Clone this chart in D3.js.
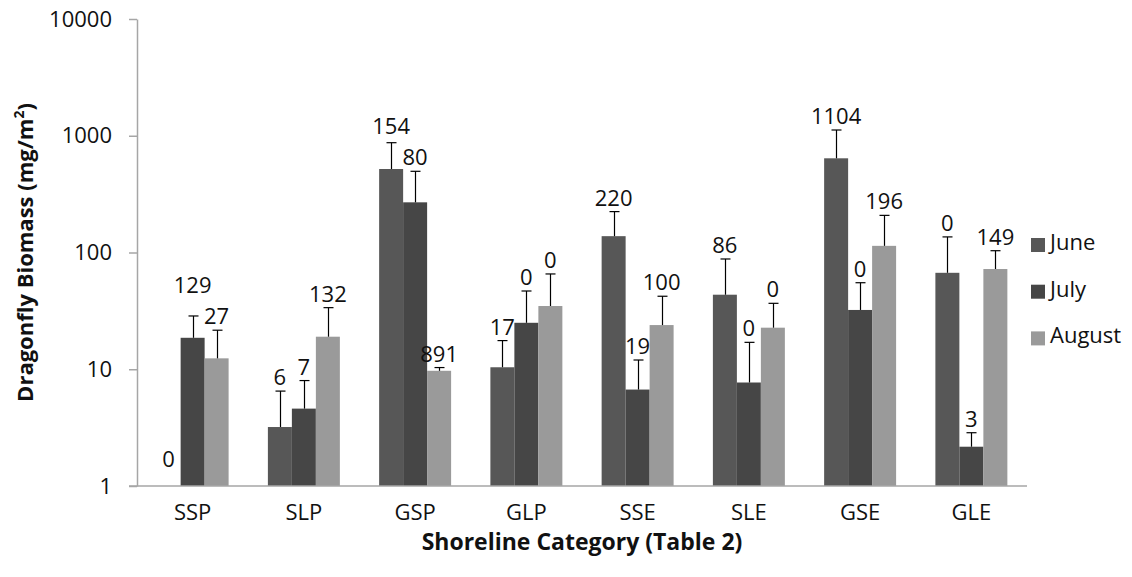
<!DOCTYPE html>
<html>
<head>
<meta charset="utf-8">
<script src="https://cdn.jsdelivr.net/npm/d3@7"></script>
<style>
  html, body { margin: 0; padding: 0; background: #fff; }
  svg { display: block; font-family: "Open Sans", "Liberation Sans", sans-serif; }
</style>
</head>
<body>
<svg id="chart" width="1132" height="577"></svg>
<script>
// Shoreline categories and the three sampling months
const categories = ["SSP", "SLP", "GSP", "GLP", "SSE", "SLE", "GSE", "GLE"];
const seriesNames = ["June", "July", "August"];

// Mean dragonfly biomass (mg/m²); null = nothing collected
const juneValues   = [null, 3.2, 519, 10.4, 138, 43.5, 641, 67];
const julyValues   = [18.6, 4.6, 269, 25, 6.7, 7.7, 32.2, 2.17];
const augustValues = [12.4, 19, 9.7, 34.8, 23.9, 22.7, 114, 72.2];

// Standard error (upper bar only)
const juneErrors   = [null, 3.3, 353, 7.2, 86, 44.5, 479, 69];
const julyErrors   = [10, 3.4, 227, 21.8, 5.3, 9.3, 22.9, 0.69];
const augustErrors = [9.2, 14.7, 0.64, 30.7, 18.3, 14, 94, 31.4];

// Annotation labels printed above each bar
const juneLabels   = ["0", "6", "154", "17", "220", "86", "1104", "0"];
const julyLabels   = ["129", "7", "80", "0", "19", "0", "0", "3"];
const augustLabels = ["27", "132", "891", "0", "100", "0", "196", "149"];

// Y-axis tick values
const yTicks = [1, 10, 100, 1000, 10000];

const seriesColors = ["#575757", "#464646", "#9a9a9a"];

const valuesBySeries = [juneValues, julyValues, augustValues];
const errorsBySeries = [juneErrors, julyErrors, augustErrors];
const labelsBySeries = [juneLabels, julyLabels, augustLabels];

const svg = d3.select("#chart");
const plotLeft = 137, plotRight = 1027, plotTop = 19, plotBottom = 486;
const axisColor = "#a6a6a6";
const textColor = "#111";
const fontSize = 22;

const y = d3.scaleLog().domain([1, 10000]).range([plotBottom, plotTop]);
const x0 = d3.scaleBand().domain(categories).range([plotLeft, plotRight])
  .paddingInner(0.353).paddingOuter(0.1765);
const x1 = d3.scaleBand().domain(seriesNames).range([0, x0.bandwidth()]);
const color = d3.scaleOrdinal().domain(seriesNames).range(seriesColors);

// Flatten into one record per bar
const records = [];
seriesNames.forEach((s, si) => {
  categories.forEach((c, ci) => {
    records.push({
      series: s, category: c,
      value: valuesBySeries[si][ci],
      error: errorsBySeries[si][ci],
      label: labelsBySeries[si][ci]
    });
  });
});

// Bars
const barX = d => x0(d.category) + x1(d.series);
svg.append("g").selectAll("rect")
  .data(records.filter(d => d.value != null))
  .join("rect")
  .attr("x", barX)
  .attr("width", x1.bandwidth())
  .attr("y", d => y(d.value))
  .attr("height", d => y(1) - y(d.value))
  .attr("fill", d => color(d.series));

// Upper error bars
const errG = svg.append("g").attr("stroke", "#000").attr("stroke-width", 1.2);
records.filter(d => d.value != null && d.error != null).forEach(d => {
  const cx = Math.round(barX(d) + x1.bandwidth() / 2) + 0.5;
  const yTop = y(d.value + d.error);
  errG.append("line").attr("x1", cx).attr("x2", cx)
    .attr("y1", y(d.value)).attr("y2", yTop);
  errG.append("line").attr("x1", cx - 5).attr("x2", cx + 5)
    .attr("y1", yTop).attr("y2", yTop);
});

// Value annotations, sitting just above each error bar
const labelSel = svg.append("g").selectAll("text")
  .data(records)
  .join("text")
  .attr("x", d => barX(d) + x1.bandwidth() / 2)
  .attr("y", d => d.value == null ? y(1) - 19 : y(d.value + d.error) - 6)
  .attr("text-anchor", "middle")
  .attr("font-size", fontSize)
  .attr("fill", textColor)
  .text(d => d.label);

// Lift a label above its neighbour when the two collide within a group
categories.forEach(c => {
  const nodes = labelSel.filter(d => d.category === c).nodes();
  for (let i = 1; i < nodes.length; i++) {
    const a = nodes[i - 1], b = nodes[i];
    const ba = a.getBBox(), bb = b.getBBox();
    const overlapX = ba.x < bb.x + bb.width && bb.x < ba.x + ba.width;
    const overlapY = ba.y < bb.y + bb.height && bb.y < ba.y + ba.height;
    if (overlapX && overlapY) {
      const [upper, lower, bu, bl] = ba.y <= bb.y ? [a, b, ba, bb] : [b, a, bb, ba];
      const shift = (bu.y + bu.height) - bl.y + 1;
      d3.select(upper).attr("y", +d3.select(upper).attr("y") - shift);
    }
  }
});

// Y axis
const yAxis = d3.axisLeft(y).tickValues(yTicks).tickFormat(d3.format("d"))
  .tickSizeOuter(0).tickSizeInner(8).tickPadding(17);
const yg = svg.append("g").attr("transform", `translate(${plotLeft},0)`).call(yAxis);
yg.select(".domain").attr("stroke", axisColor).attr("stroke-width", 1.5);
yg.selectAll(".tick line").attr("stroke", axisColor).attr("stroke-width", 1.5);
yg.selectAll(".tick text").attr("font-size", fontSize).attr("fill", textColor)
  .attr("font-family", "'Open Sans', sans-serif");

// X axis baseline
svg.append("line").attr("x1", plotLeft - 8).attr("x2", plotRight)
  .attr("y1", plotBottom).attr("y2", plotBottom)
  .attr("stroke", axisColor).attr("stroke-width", 1.5);

// Category labels
svg.append("g").selectAll("text")
  .data(categories)
  .join("text")
  .attr("x", d => x0(d) + x0.bandwidth() / 2)
  .attr("y", 520)
  .attr("text-anchor", "middle")
  .attr("font-size", fontSize)
  .attr("fill", textColor)
  .text(d => d);

// Axis titles
svg.append("text")
  .attr("x", (plotLeft + plotRight) / 2).attr("y", 550)
  .attr("text-anchor", "middle")
  .attr("font-size", 23).attr("font-weight", "bold").attr("fill", textColor)
  .text("Shoreline Category (Table 2)");

const yTitle = svg.append("text")
  .attr("transform", `translate(33,${(plotTop + plotBottom) / 2}) rotate(-90)`)
  .attr("text-anchor", "middle")
  .attr("font-size", 22).attr("font-weight", "bold").attr("fill", textColor);
yTitle.append("tspan").text("Dragonfly Biomass (mg/m");
yTitle.append("tspan").attr("font-size", 14).attr("dy", -9).text("2");
yTitle.append("tspan").attr("dy", 9).text(")");

// Legend
const legend = svg.append("g").selectAll("g")
  .data(seriesNames)
  .join("g")
  .attr("transform", (d, i) => `translate(1031,${245 + i * 46.7})`);
legend.append("rect").attr("x", 0).attr("y", -7).attr("width", 14).attr("height", 14)
  .attr("fill", d => color(d));
legend.append("text").attr("x", 19).attr("y", 5)
  .attr("font-size", fontSize).attr("fill", textColor).text(d => d);
</script>
</body>
</html>
